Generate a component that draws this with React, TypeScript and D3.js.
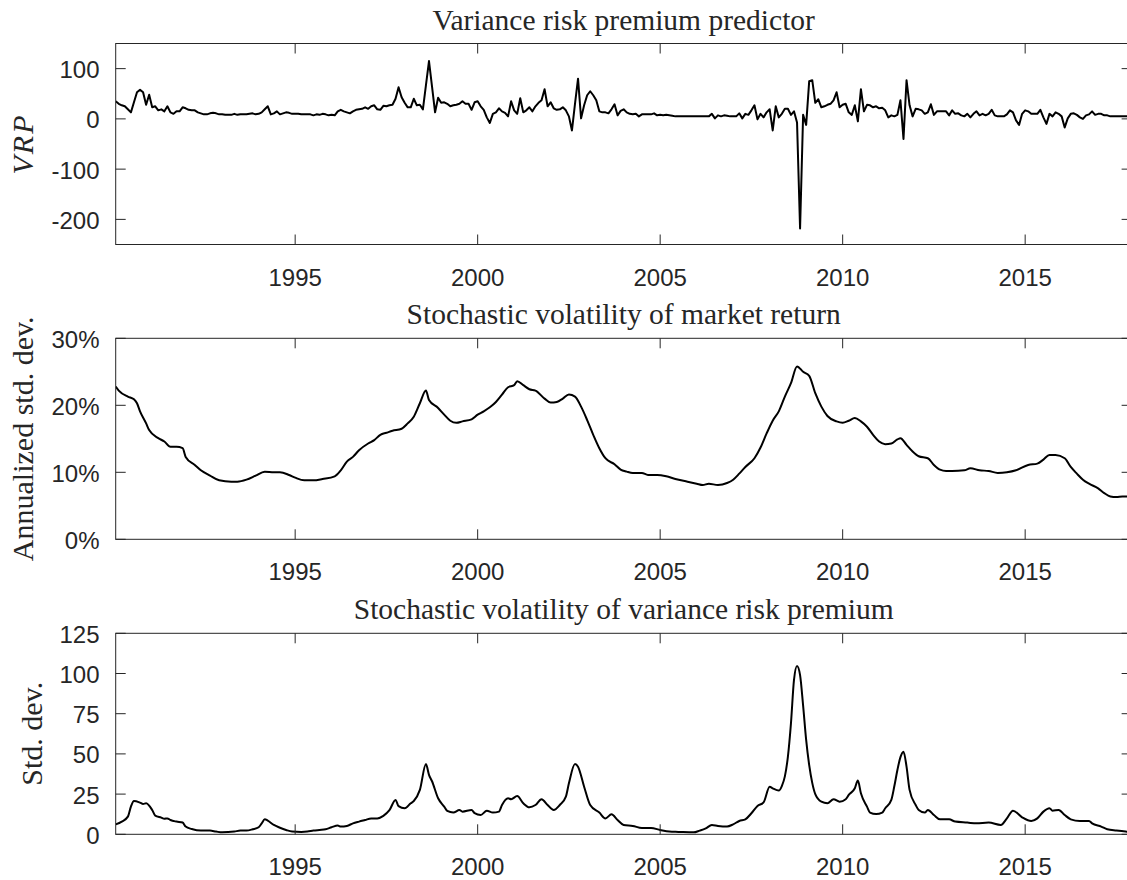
import React from 'react';
import * as d3 from 'd3';

// Monthly series start in February 1990 and end in December 2017.
const FIRST_MONTH = { year: 1990, month: 2 };
const MONTH_COUNT = 335;

// Variance risk premium predictor, one value per month.
const vrpMonthly: number[] = [
  35, 30, 27, 25, 19, 13, 33, 53, 58, 53,
  28, 48, 23, 25, 17, 19, 15, 25, 13, 10,
  15, 15, 23, 21, 18, 17, 17, 13, 11, 9,
  9, 11, 12, 11, 9, 9, 8, 8, 8, 10,
  8, 9, 9, 9, 10, 11, 9, 10, 13, 19,
  25, 9, 11, 15, 9, 11, 13, 12, 10, 10,
  10, 9, 9, 9, 9, 7, 9, 8, 10, 9,
  7, 8, 7, 15, 18, 15, 13, 11, 15, 18,
  19, 20, 23, 20, 25, 27, 19, 18, 26, 25,
  27, 28, 40, 63, 43, 32, 23, 23, 40, 27,
  28, 19, 67, 115, 64, 13, 42, 32, 33, 30,
  25, 27, 28, 30, 35, 30, 30, 18, 33, 35,
  25, 18, 3, -8, 10, 13, 21, 15, 12, 5,
  35, 17, 10, 41, 13, 17, 23, 15, 25, 32,
  37, 59, 25, 33, 21, 18, 19, 23, 17, 5,
  -23, 30, 80, 1, 27, 47, 55, 47, 37, 15,
  13, 13, 11, 19, 29, 7, 16, 19, 13, 10,
  9, 10, 5, 9, 9, 9, 9, 11, 7, 8,
  7, 8, 7, 6, 5, 5, 5, 5, 5, 5,
  5, 5, 5, 5, 5, 5, 10, 1, 7, 5,
  7, 6, 5, 5, 5, 11, 1, 10, 8, 17,
  27, -1, 10, 3, 13, 19, -23, 25, 3, 10,
  20, 20, 8, 15, -7, -218, 8, -12, 75, 77,
  32, 39, 23, 25, 28, 30, 37, 53, 23, 28,
  30, 13, 8, 27, -5, 59, 15, 28, 27, 23,
  25, 21, 22, 17, 3, 7, 5, 8, 37, -40,
  77, 27, 5, 20, 19, 17, 10, 13, 29, 8,
  15, 15, 15, 15, 7, 17, 10, 11, 7, 5,
  10, 3, 10, 15, 7, 10, 7, 10, 18, 7,
  5, 5, 5, 9, 17, 13, -3, -12, 10, 17,
  15, 10, 10, 10, 18, 3, -10, 10, 5, 13,
  10, 5, -17, 1, 10, 11, 8, 3, 0, 7,
  9, 15, 8, 10, 10, 7, 7, 5, 5, 5,
  5, 5, 5, 5, 5,
];

// Stochastic volatility of market return: [months after Feb 1990, annualized std. dev. in %]
const marketVolPoints: [number, number][] = [
  [0, 22.8], [1, 22.2], [4, 21.3], [6, 20.9], [7, 20.3], [8, 19.1], [10, 17.3], [11, 16.3],
  [14, 15.1], [16, 14.6], [18, 13.8], [20, 13.8], [22, 13.6], [23, 12.3], [26, 11.1], [28, 10.3],
  [31, 9.5], [34, 8.8], [38, 8.6], [40, 8.6], [43, 8.9], [46, 9.5], [49, 10.1], [52, 10.0],
  [54, 10.0], [57, 9.6], [59, 9.2], [62, 8.8], [65, 8.8], [68, 9.0], [72, 9.4], [74, 10.3],
  [76, 11.6], [78, 12.3], [80, 13.3], [83, 14.3], [85, 14.8], [87, 15.6], [89, 15.9], [91, 16.2],
  [94, 16.5], [96, 17.3], [98, 18.3], [100, 20.3], [102, 22.2], [103, 20.8], [106, 19.6], [108, 18.6],
  [110, 17.7], [112, 17.4], [114, 17.6], [117, 17.9], [119, 18.6], [121, 19.1], [123, 19.7], [125, 20.5],
  [127, 21.6], [129, 22.7], [131, 23.0], [132, 23.6], [134, 23.0], [136, 22.4], [138, 22.2], [141, 21.0],
  [143, 20.4], [145, 20.5], [147, 21.0], [149, 21.6], [151, 21.3], [153, 19.8], [155, 17.8], [157, 15.6],
  [159, 13.6], [161, 12.1], [164, 11.2], [166, 10.4], [168, 10.1], [170, 9.9], [173, 9.9], [175, 9.6],
  [178, 9.6], [181, 9.4], [184, 9.0], [188, 8.6], [191, 8.3], [193, 8.1], [195, 8.3], [198, 8.1],
  [201, 8.4], [203, 8.9], [205, 9.8], [207, 10.8], [210, 12.1], [212, 13.7], [214, 15.8], [216, 17.7],
  [218, 19.1], [220, 21.3], [222, 23.3], [224, 25.8], [226, 25.0], [228, 24.4], [230, 21.8], [232, 19.8],
  [234, 18.4], [237, 17.6], [239, 17.4], [241, 17.7], [243, 18.1], [245, 17.6], [247, 16.8], [249, 15.6],
  [251, 14.6], [253, 14.2], [255, 14.3], [257, 14.9], [258, 15.1], [260, 14.1], [262, 13.1], [264, 12.4],
  [267, 12.1], [269, 11.1], [271, 10.4], [273, 10.2], [275, 10.2], [279, 10.3], [281, 10.6], [284, 10.3],
  [287, 10.2], [290, 9.9], [293, 10.0], [296, 10.3], [300, 11.1], [303, 11.3], [305, 11.9], [307, 12.6],
  [309, 12.6], [312, 12.1], [314, 10.8], [316, 9.8], [318, 8.9], [320, 8.3], [323, 7.6], [325, 6.9],
  [327, 6.4], [329, 6.3], [331, 6.4], [334, 6.4],
];

// Stochastic volatility of the variance risk premium: [months after Feb 1990, std. dev.]
const vrpVolPoints: [number, number][] = [
  [0, 6.2], [2, 7.9], [4, 11], [5, 17.2], [6, 20.7], [8, 19.7], [9, 18.9], [10, 19.3],
  [12, 15.1], [13, 11.6], [15, 10.4], [16, 9.7], [17, 9.9], [18, 8.9], [20, 7.9], [22, 7.3],
  [23, 4.8], [25, 3.3], [28, 2.3], [31, 2.3], [33, 1.7], [35, 1.2], [39, 1.7], [41, 2.3],
  [43, 2.3], [45, 3.1], [47, 4.4], [48, 6.8], [49, 9.3], [50, 8.5], [52, 5.8], [54, 4.1],
  [56, 2.7], [58, 1.7], [61, 1.5], [63, 1.7], [65, 2.3], [67, 2.7], [69, 3.1], [71, 4.4],
  [73, 5.4], [74, 4.8], [76, 5.2], [78, 6.8], [80, 7.9], [82, 8.9], [84, 9.9], [86, 9.9],
  [88, 11.5], [90, 15], [92, 21.4], [93, 17.5], [95, 16.2], [97, 19.3], [98, 20.7], [100, 27.6],
  [102, 43.7], [103, 37], [104, 33], [106, 22.4], [108, 17.2], [109, 14.5], [111, 13.5], [113, 15.1],
  [114, 14.1], [117, 15.1], [118, 13.1], [120, 12], [122, 14.7], [124, 13.5], [126, 14.1], [127, 18.2],
  [129, 22.4], [130, 21.8], [132, 23.8], [134, 19.3], [136, 16.8], [138, 18.2], [140, 21.8], [142, 18.2],
  [144, 15.1], [146, 18.2], [148, 23.4], [149, 31.7], [151, 43.7], [152, 42], [154, 29.6], [156, 18.2],
  [159, 13.5], [161, 9.9], [163, 12.4], [165, 8.9], [167, 5.8], [170, 5.2], [173, 3.9], [176, 3.9],
  [179, 2.7], [182, 1.7], [185, 1.5], [190, 1.2], [192, 2.3], [194, 3.7], [196, 5.8], [198, 5.2],
  [201, 4.8], [203, 6.2], [205, 8.3], [207, 9.3], [209, 13.1], [211, 17.6], [213, 19.8], [215, 29.6],
  [216, 28.6], [218, 27.2], [219, 30], [220, 36], [221, 48.3], [222, 69], [223, 96], [224, 104.7],
  [225, 99], [226, 80], [227, 58.7], [228, 43], [229, 32], [230, 25], [232, 20.3], [234, 19.3],
  [236, 21.8], [238, 20.3], [240, 21.8], [241, 24.5], [243, 28.6], [244, 33.4], [245, 25.5], [247, 17.2],
  [248, 13.5], [250, 12.6], [252, 13.5], [253, 16.2], [255, 21.4], [256, 30], [257, 40], [258, 48],
  [259, 51.4], [260, 42.1], [261, 27.6], [263, 18.2], [264, 15.1], [266, 13.5], [267, 15.1], [269, 12],
  [271, 9.3], [274, 9.3], [276, 7.9], [280, 7.3], [283, 6.8], [287, 7.3], [291, 5.8], [293, 9.9],
  [295, 14.7], [298, 10.6], [301, 8.3], [303, 9.9], [305, 14.1], [307, 16.2], [308, 14.7], [310, 15.1],
  [312, 12], [314, 9.3], [317, 8.3], [320, 8.3], [321, 6.8], [324, 4.8], [326, 3.1], [329, 2.3],
  [332, 1.7], [334, 1.5],
];

const yearTicks = [1995, 2000, 2005, 2010, 2015];
const vrpTicks = [100, 0, -100, -200];
const marketVolTicks = [0, 10, 20, 30];
const vrpVolTicks = [0, 25, 50, 75, 100, 125];

const panelTitles = [
  'Variance risk premium predictor',
  'Stochastic volatility of market return',
  'Stochastic volatility of variance risk premium',
];

const INK = '#262626';
const SANS = '"Liberation Sans", Arial, Helvetica, sans-serif';
const SERIF = '"Liberation Serif", "Times New Roman", serif';

const monthToYear = (m: number) =>
  FIRST_MONTH.year + (FIRST_MONTH.month - 1 + m) / 12;

const tStart = monthToYear(0);
const tEnd = monthToYear(MONTH_COUNT - 1);
const PLOT_LEFT = 115.7;
const PX_PER_YEAR = 36.5;
const xScale = d3
  .scaleLinear()
  .domain([tStart, tEnd])
  .range([PLOT_LEFT, PLOT_LEFT + (tEnd - tStart) * PX_PER_YEAR]);

const PANEL_H = 201;
const TICK = 10;

type PanelProps = {
  id: string;
  top: number;
  title: string;
  yDomain: [number, number];
  yTicks: number[];
  fmt: (v: number) => string;
  data: [number, number][];
  smooth: boolean;
  yLabel: React.ReactNode;
  yLabelX: number;
};

function Panel({ id, top, title, yDomain, yTicks, fmt, data, smooth, yLabel, yLabelX }: PanelProps) {
  const bottom = top + PANEL_H;
  const y = d3.scaleLinear().domain(yDomain).range([bottom, top]);
  const [x0, x1] = xScale.range();
  const line = d3
    .line<[number, number]>()
    .x((d) => xScale(monthToYear(d[0])))
    .y((d) => y(d[1]))
    .curve(smooth ? d3.curveMonotoneX : d3.curveLinear);

  return (
    <g>
      <defs>
        <clipPath id={id}>
          <rect x={x0} y={top} width={x1 - x0} height={PANEL_H} />
        </clipPath>
      </defs>
      <path
        d={line(data) ?? ''}
        fill="none"
        stroke="#000"
        strokeWidth={2}
        strokeLinejoin="round"
        clipPath={`url(#${id})`}
      />
      <rect x={x0} y={top} width={x1 - x0} height={PANEL_H} fill="none" stroke={INK} strokeWidth={1} />
      {yearTicks.map((yr) => {
        const xv = xScale(yr);
        return (
          <g key={yr}>
            <line x1={xv} x2={xv} y1={bottom} y2={bottom - TICK} stroke={INK} />
            <line x1={xv} x2={xv} y1={top} y2={top + TICK} stroke={INK} />
            <text x={xv} y={bottom + 41} textAnchor="middle" fontFamily={SANS} fontSize={24} fill={INK}>
              {yr}
            </text>
          </g>
        );
      })}
      {yTicks.map((v) => {
        const yv = y(v);
        return (
          <g key={v}>
            <line x1={x0} x2={x0 + TICK} y1={yv} y2={yv} stroke={INK} />
            <line x1={x1} x2={x1 - TICK} y1={yv} y2={yv} stroke={INK} />
            <text x={99.5} y={yv + 9.5} textAnchor="end" fontFamily={SANS} fontSize={24} fill={INK}>
              {fmt(v)}
            </text>
          </g>
        );
      })}
      <text
        x={(x0 + x1) / 2}
        y={top - 14}
        textAnchor="middle"
        fontFamily={SERIF}
        fontSize={29.5}
        fill={INK}
      >
        {title}
      </text>
      <text
        transform={`translate(${yLabelX},${(top + bottom) / 2}) rotate(-90)`}
        textAnchor="middle"
        fontFamily={SERIF}
        fontSize={30}
        fill={INK}
      >
        {yLabel}
      </text>
    </g>
  );
}

export default function App() {
  const vrpData: [number, number][] = vrpMonthly.map((v, i) => [i, v]);
  return (
    <svg
      width={1127}
      height={880}
      viewBox="0 0 1127 880"
      style={{ position: 'absolute', left: 0, top: 0, background: '#fff' }}
    >
      <rect width={1127} height={880} fill="#fff" />
      <Panel
        id="clip-vrp"
        top={43.5}
        title={panelTitles[0]}
        yDomain={[-250, 150]}
        yTicks={vrpTicks}
        fmt={(v) => String(v)}
        data={vrpData}
        smooth={false}
        yLabel={<tspan fontStyle="italic" letterSpacing={2}>VRP</tspan>}
        yLabelX={33}
      />
      <Panel
        id="clip-mkt"
        top={338.3}
        title={panelTitles[1]}
        yDomain={[0, 30]}
        yTicks={marketVolTicks}
        fmt={(v) => `${v}%`}
        data={marketVolPoints}
        smooth={true}
        yLabel="Annualized std. dev."
        yLabelX={33}
      />
      <Panel
        id="clip-vrpvol"
        top={633.3}
        title={panelTitles[2]}
        yDomain={[0, 125]}
        yTicks={vrpVolTicks}
        fmt={(v) => String(v)}
        data={vrpVolPoints}
        smooth={true}
        yLabel="Std. dev."
        yLabelX={41.5}
      />
    </svg>
  );
}
